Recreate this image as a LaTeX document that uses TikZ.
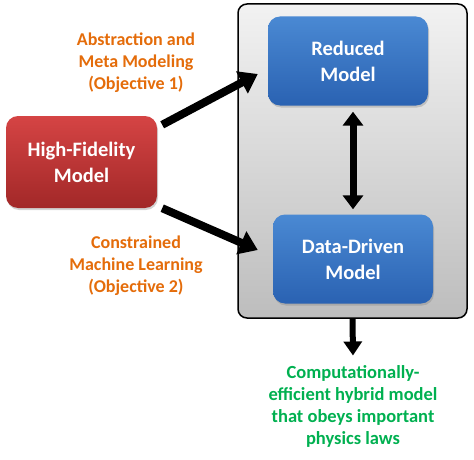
\documentclass[tikz,border=0pt]{standalone}
\usepackage{fontspec}
\setmainfont{Carlito}
\usetikzlibrary{arrows.meta,shadows,calc}
\definecolor{orangetxt}{HTML}{E46C0A}
\definecolor{greentxt}{HTML}{00B050}
\definecolor{redtop}{HTML}{D54444}
\definecolor{redbot}{HTML}{A22828}
\definecolor{bluetop}{HTML}{4A89D3}
\definecolor{bluebot}{HTML}{2A62B2}
\definecolor{graytop}{HTML}{F2F2F2}
\definecolor{graybot}{HTML}{BDBDBD}
\tikzset{
  modelbox/.style={rounded corners=12pt, minimum width=#1, text=white, align=center,
    font=\bfseries\fontsize{20.5}{26}\selectfont,
    drop shadow={shadow xshift=1pt,shadow yshift=-2pt,opacity=0.35}},
  redbox/.style={modelbox=151pt, minimum height=92pt, top color=redtop, bottom color=redbot},
  bluebox/.style={modelbox=160pt, minimum height=89pt, top color=bluetop, bottom color=bluebot},
  labeltxt/.style={align=center, text=orangetxt, font=\bfseries\fontsize{18}{22}\selectfont},
  outtxt/.style={align=center, text=greentxt, font=\bfseries\fontsize{18.5}{22}\selectfont},
  bigarrow/.style={line width=8pt, -{Triangle[length=18pt,width=24pt]}},
  dblarrow/.style={line width=7pt, {Triangle[length=14pt,width=20pt]}-{Triangle[length=14pt,width=20pt]}},
}
\begin{document}
\begin{tikzpicture}[x=1pt,y=-1pt]
\useasboundingbox (0,0) rectangle (474,460);
\node[draw=black, line width=1.5pt, rounded corners=9pt, top color=graytop, bottom color=graybot,
  minimum width=229pt, minimum height=314pt, inner sep=0pt] (cont) at (352.5,161) {};
\node[bluebox] (red) at (348,61) {Reduced\\Model};
\node[bluebox] (dd) at (353,259) {Data-Driven\\Model};
\node[redbox] (hf) at (81.5,162) {High-Fidelity\\Model};
\node[labeltxt] (l1) at (136,63) {Abstraction and\\Meta Modeling\\(Objective 1)};
\node[labeltxt] (l2) at (136,266) {Constrained\\Machine Learning\\(Objective 2)};
\node[outtxt] (out) at (353,406) {Computationally-\\efficient hybrid model\\that obeys important\\physics laws};
\draw[bigarrow] ([xshift=5pt,yshift=-9pt]hf.north east) -- ([xshift=-10pt,yshift=-13pt]red.west);
\draw[bigarrow] ([xshift=5pt,yshift=0pt]hf.south east) -- ([xshift=-15pt,yshift=9pt]dd.west);
\draw[dblarrow] ([yshift=-6pt]red.south -| dd.north) -- ([yshift=5pt]dd.north);
\draw[line width=6pt, -{Triangle[length=14pt,width=18pt]}] (cont.south) -- ([yshift=6pt]out.north);
\end{tikzpicture}
\end{document}
